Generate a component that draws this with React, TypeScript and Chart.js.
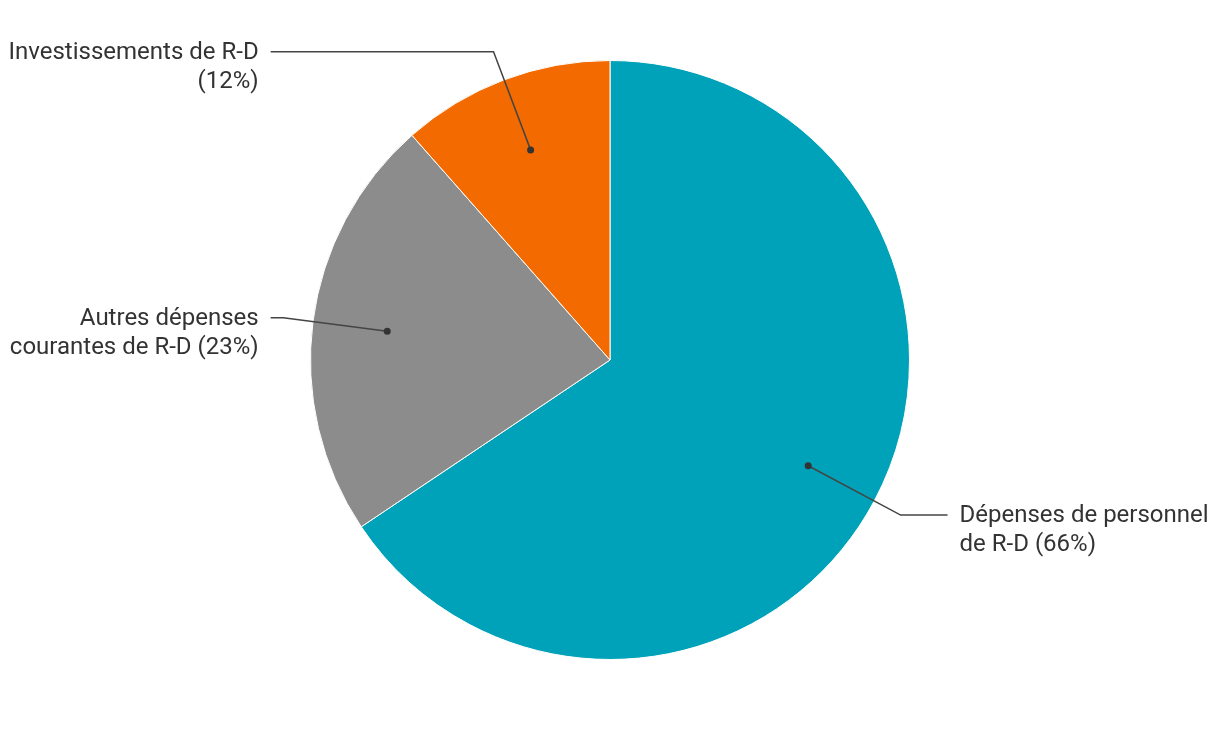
import React, { useEffect, useRef } from "react";
import { Chart, registerables } from "chart.js";

Chart.register(...registerables);

const categories = [
  "Dépenses de personnel de R-D",
  "Autres dépenses courantes de R-D",
  "Investissements de R-D",
];
const values = [65.6, 22.9, 11.5];
const labelLines = [
  ["Dépenses de personnel", "de R-D (66%)"],
  ["Autres dépenses", "courantes de R-D (23%)"],
  ["Investissements de R-D", "(12%)"],
];
const colors = ["#00A2B9", "#8C8C8C", "#F26A00"];

const leaderPlugin = {
  id: "leaders",
  afterDraw(chart: any) {
    const ctx = chart.ctx;
    const meta = chart.getDatasetMeta(0);
    ctx.save();
    ctx.font = '24px Roboto';
    ctx.textBaseline = "middle";
    meta.data.forEach((arc: any, i: number) => {
      const { x, y, startAngle, endAngle, outerRadius } = arc.getProps(
        ["x", "y", "startAngle", "endAngle", "outerRadius"],
        true
      );
      const mid = (startAngle + endAngle) / 2;
      const dx = Math.cos(mid);
      const dy = Math.sin(mid);
      const px = x + dx * outerRadius * 0.75;
      const py = y + dy * outerRadius * 0.75;
      const ex = x + dx * outerRadius * 1.1;
      const ey = y + dy * outerRadius * 1.1;
      const right = dx >= 0;
      const hx = right ? x + outerRadius * 1.127 : x - outerRadius * 1.133;
      ctx.strokeStyle = "#444";
      ctx.lineWidth = 1.5;
      ctx.beginPath();
      ctx.moveTo(px, py);
      ctx.lineTo(ex, ey);
      ctx.lineTo(hx, ey);
      ctx.stroke();
      ctx.fillStyle = "#333";
      ctx.beginPath();
      ctx.arc(px, py, 3.5, 0, Math.PI * 2);
      ctx.fill();
      ctx.textAlign = right ? "left" : "right";
      const tx = right ? hx + 12 : hx - 12;
      labelLines[i].forEach((line, j) => {
        ctx.fillText(line, tx, ey + 1 + j * 29);
      });
    });
    ctx.restore();
  },
};

export default function App() {
  const ref = useRef<HTMLCanvasElement>(null);
  useEffect(() => {
    if (!ref.current) return;
    const chart = new Chart(ref.current, {
      type: "pie",
      data: {
        labels: categories,
        datasets: [
          {
            data: values,
            backgroundColor: colors,
            borderColor: "#ffffff",
            borderWidth: 1,
          },
        ],
      },
      options: {
        responsive: false,
        animation: false,
        layout: { padding: { top: 60, bottom: 72, left: 10, right: 10 } },
        plugins: {
          legend: { display: false },
          tooltip: { enabled: false },
        },
      },
      plugins: [leaderPlugin],
    });
    return () => chart.destroy();
  }, []);
  return (
    <div style={{ position: "fixed", left: 0, top: 0, width: 1220, height: 732, background: "#fff" }}>
      <canvas ref={ref} width={1220} height={732} />
    </div>
  );
}
